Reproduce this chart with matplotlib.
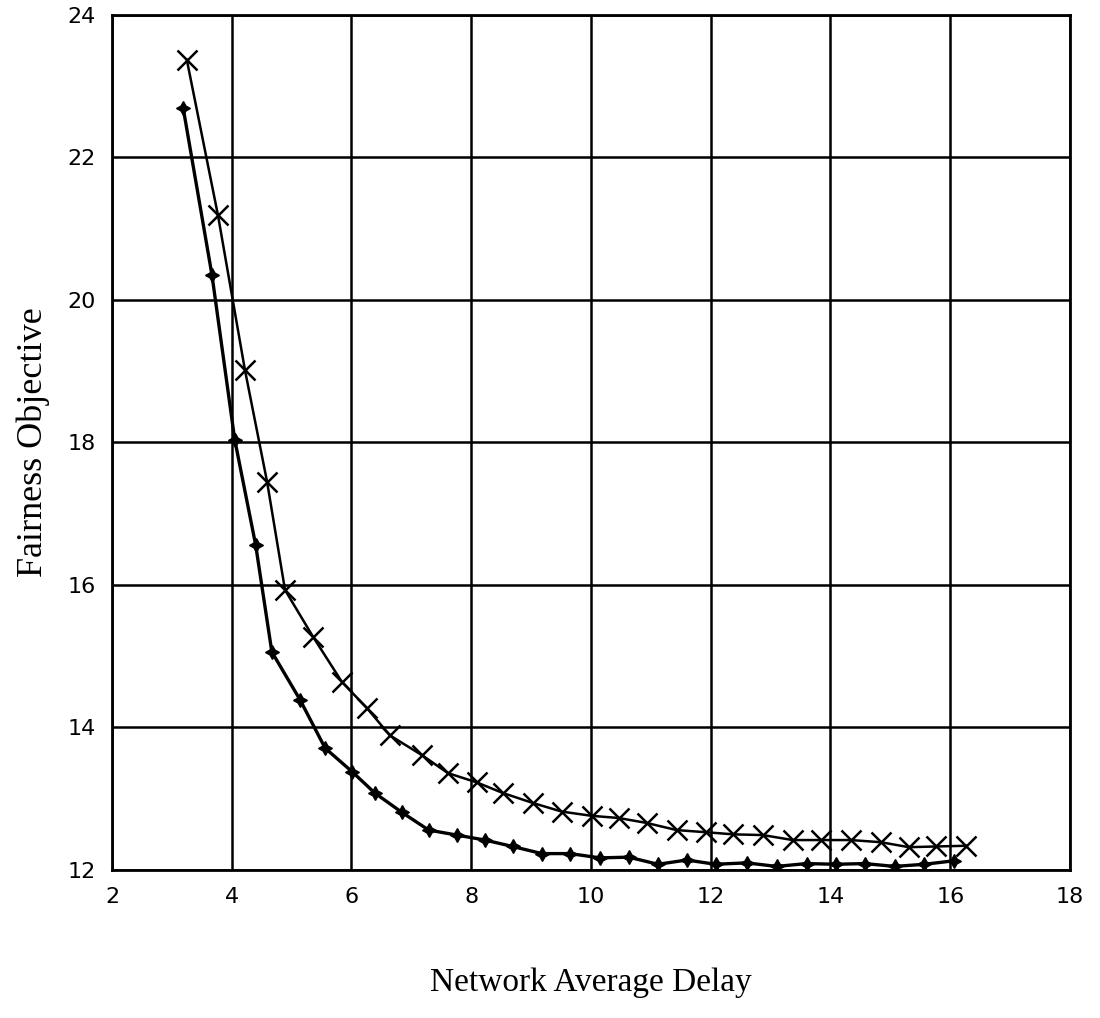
import matplotlib
matplotlib.use("Agg")
from matplotlib import pyplot as plt

# upper curve (x markers)
delay_x = [3.25, 3.77, 4.22, 4.59, 4.89, 5.36, 5.84, 6.26, 6.64, 7.18,
           7.61, 8.09, 8.53, 9.03, 9.51, 10.01, 10.46, 10.93, 11.43, 11.92,
           12.38, 12.87, 13.37, 13.85, 14.34, 14.84, 15.31, 15.77, 16.27]
fair_x = [23.37, 21.19, 19.02, 17.45, 15.93, 15.27, 14.64, 14.27, 13.89, 13.61,
          13.36, 13.23, 13.08, 12.94, 12.82, 12.76, 12.73, 12.66, 12.56, 12.53,
          12.50, 12.49, 12.42, 12.42, 12.42, 12.39, 12.32, 12.33, 12.34]

# lower curve (star markers)
delay_s = [3.19, 3.67, 4.05, 4.40, 4.67, 5.14, 5.56, 6.01, 6.39, 6.84,
           7.29, 7.76, 8.23, 8.69, 9.18, 9.65, 10.15, 10.63, 11.12, 11.60,
           12.08, 12.60, 13.10, 13.60, 14.09, 14.57, 15.07, 15.57, 16.07]
fair_s = [22.69, 20.35, 18.04, 16.56, 15.06, 14.39, 13.71, 13.38, 13.08, 12.81,
          12.56, 12.49, 12.42, 12.33, 12.23, 12.23, 12.17, 12.18, 12.08, 12.14,
          12.08, 12.10, 12.05, 12.09, 12.08, 12.09, 12.05, 12.08, 12.13]

xticks = [2, 4, 6, 8, 10, 12, 14, 16, 18]
yticks = [12, 14, 16, 18, 20, 22, 24]

fig = plt.figure(figsize=(11, 10.18), dpi=100)
ax = fig.add_axes([0.1018, 0.1454, 0.8709, 0.8399])

ax.plot(delay_x, fair_x, color="black", lw=1.8, marker="x",
        markersize=14, markeredgewidth=1.8)
ax.plot(delay_s, fair_s, color="black", lw=2.4, marker=(4, 1, 0),
        markersize=10)

ax.set_xlim(2, 18)
ax.set_ylim(12, 24)
ax.set_xticks(xticks)
ax.set_yticks(yticks)
ax.tick_params(length=0, labelsize=16, pad=12)
ax.grid(True, color="black", lw=1.8)
for spine in ax.spines.values():
    spine.set_linewidth(2)

ax.set_xlabel("Network Average Delay", family="Liberation Serif",
              fontsize=24, labelpad=44)
ax.set_ylabel("Fairness Objective", family="Liberation Serif",
              fontsize=26, labelpad=12)

fig.savefig("out.png", dpi=100)
